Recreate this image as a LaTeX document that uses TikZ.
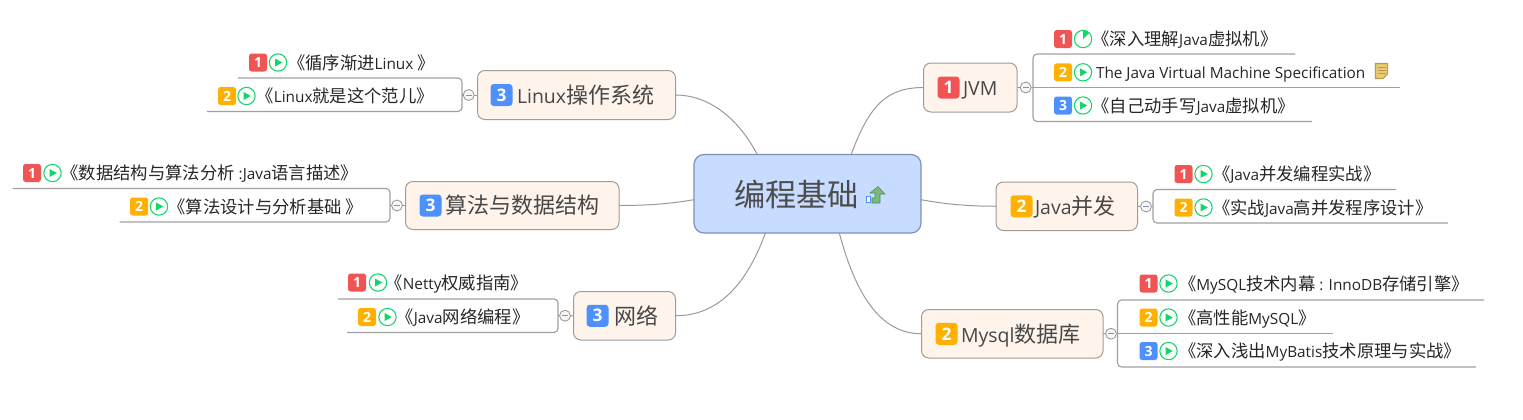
\documentclass[tikz,border=0pt]{standalone}
\usepackage{fontspec}
\setmainfont{Open Sans}
\newfontfamily\cjk{Noto Sans CJK SC}
\newfontfamily\latinf[Scale=0.885]{Open Sans}
\newcommand\ltn[1]{{\latinf #1}}
\definecolor{cred}{HTML}{F05555}
\definecolor{corange}{HTML}{FFB000}
\definecolor{cblue}{HTML}{4D90FE}
\definecolor{cgreen}{HTML}{12D668}
\definecolor{topicfill}{HTML}{FEF4EC}
\definecolor{topicedge}{HTML}{A39C94}
\definecolor{mainfill}{HTML}{C8DCFF}
\definecolor{mainedge}{HTML}{7F90B6}
\definecolor{linkc}{HTML}{9A9A9A}
\definecolor{leafline}{HTML}{A0A0A0}
\definecolor{notefill}{HTML}{EBCB70}
\definecolor{noteedge}{HTML}{BC9A50}
\definecolor{arrowfill}{HTML}{7DB87D}
\definecolor{arrowedge}{HTML}{4F8F5F}
\tikzset{
 px/.style={x=0.75pt,y=-0.75pt},
 mainbox/.style={draw=mainedge,line width=0.9pt,fill=mainfill,rounded corners=7.5pt,inner sep=0,outer sep=0,minimum width=170.25pt,minimum height=58.9pt},
 topicbox/.style={draw=topicedge,line width=0.75pt,fill=topicfill,rounded corners=5.5pt,inner sep=0,outer sep=0},
 topictext/.style={font=\cjk\fontsize{16.5}{19}\selectfont,text=black!72,anchor=west,inner sep=0,outer sep=0,text height=14.5pt,text depth=2pt},
 leaftext/.style={font=\cjk\fontsize{13}{14}\selectfont,text=black!85,anchor=west,inner sep=0,outer sep=0,text height=11.4pt,text depth=1.5pt},
 badgeS/.style={rounded corners=2pt,inner sep=0,outer sep=0,minimum size=13.5pt,text=white,font=\fontsize{10.5}{10.5}\selectfont\bfseries},
 badgeL/.style={rounded corners=2.5pt,inner sep=0,outer sep=0,minimum size=16.5pt,text=white,font=\fontsize{13}{13}\selectfont\bfseries},
 playicon/.style={circle,draw=cgreen,line width=0.8pt,fill=white,minimum size=13pt,inner sep=0,outer sep=0},
 collapse/.style={circle,draw=black!42,line width=0.6pt,fill=black!3,minimum size=8.2pt,inner sep=0,outer sep=0},
 link/.style={draw=linkc,line width=0.75pt},
 branch/.style={draw=leafline,line width=0.85pt,rounded corners=3pt},
}
% name, badge left x, y, colour, number, icon centre x, text left x, text
\newcommand\leafitem[8]{%
 \node[badgeS,fill=#4] (#1b) at (#2+9,#3) {#5};
 \node[playicon] (#1i) at (#6,#3) {};
 \node[leaftext] (#1t) at (#7,#3) {#8};
}
\newcommand\playmark[1]{\fill[cgreen] ($(#1)+(-2.2pt,-3pt)$) -- ($(#1)+(3.2pt,0)$) -- ($(#1)+(-2.2pt,3pt)$) -- cycle;}
% name, left, top, right, bottom, badge colour, number, badge left, text left
\newcommand\topicnode[9]{%
 \node[topicbox,minimum width={(#4-#2)*0.75pt},minimum height={(#5-#3)*0.75pt}] (#1) at ({(#2+#4)/2},{(#3+#5)/2}) {};
 \node[badgeL,fill=#6] (#1b) at (#8+10.5,{(#3+#5)/2}) {#7};
 \node[topictext] (#1t) at (#9,{(#3+#5)/2}) {\topictxt};
}
\usetikzlibrary{calc}
\begin{document}
\begin{tikzpicture}[px]
\useasboundingbox (0,0) rectangle (1523,419);
\fill[white] (0,0) rectangle (1523,419);

% ---- centre
\node[mainbox] (main) at (807.5,193.75) {};
\node[font=\cjk\fontsize{23.4}{26}\selectfont,text=black!70,anchor=west,inner sep=0,outer sep=0] (maint) at (734,194.5) {编程基础};
\node[draw=cblue,fill=white,line width=0.5pt,minimum width=3pt,minimum height=4.5pt,inner sep=0,outer sep=0] (mainic) at (868.5,199) {};
\fill[fill=arrowfill,draw=arrowedge,line width=0.4pt] (872,198) -- (872,203) -- (880,203) -- (880,194) -- (885,194) -- (878,186.5) -- (870,193) -- (875,193) -- (875,198) -- cycle;

% ---- topics
\def\topictxt{\ltn{JVM}}
\topicnode{jvm}{923.5}{63}{1017}{112}{cred}{1}{938}{963}
\def\topictxt{\ltn{Java}并发}
\topicnode{conc}{996}{182}{1137.5}{230.5}{corange}{2}{1011}{1035}
\def\topictxt{\ltn{Mysql}数据库}
\topicnode{mysql}{921.5}{309.5}{1103}{358}{corange}{2}{936}{961}
\def\topictxt{\ltn{Linux}操作系统}
\topicnode{linux}{477.5}{70.5}{675.5}{119.5}{cblue}{3}{491}{517}
\def\topictxt{算法与数据结构}
\topicnode{algo}{405.5}{181.5}{619}{229.5}{cblue}{3}{420}{445}
\def\topictxt{网络}
\topicnode{net}{573.5}{291.5}{675.5}{340}{cblue}{3}{587}{614}

% ---- connectors from the centre
\draw[link] (main.42.4) .. controls +(18,-48) and +(-38,0) .. (jvm.west);
\draw[link] (main.-3.9) .. controls +(22,4) and +(-30,0) .. (conc.west);
\draw[link] (main.-51.25) .. controls +(16,60) and +(-42,0) .. (mysql.west);
\draw[link] (main.142.6) .. controls +(-20,-38) and +(32,0) .. (linux.east);
\draw[link] (main.183.65) .. controls +(-24,4) and +(30,0) .. (algo.east);
\draw[link] (main.223.4) .. controls +(-20,55) and +(40,0) .. (net.east);

% ---- branch lines
\coordinate (ja) at (1295,54); \coordinate (jb) at (1033,54); \coordinate (jc) at (1033,121.5); \coordinate (jd) at (1312,121.5); \coordinate (je) at (1400,87.5);
\draw[branch] (ja) -- (jb) -- (jc) -- (jd);
\coordinate (ca) at (1396,189.5); \coordinate (cb) at (1153,189.5); \coordinate (cc) at (1153,223); \coordinate (cd) at (1448,223);
\draw[branch] (ca) -- (cb) -- (cc) -- (cd);
\coordinate (ma) at (1484,300); \coordinate (mb) at (1117.5,300); \coordinate (mc) at (1117.5,367); \coordinate (md) at (1476,367); \coordinate (me) at (1333,333.7);
\draw[branch] (ma) -- (mb) -- (mc) -- (md);
\coordinate (la) at (238,78); \coordinate (lb) at (462,78); \coordinate (lc) at (462,111.5); \coordinate (ld) at (207,111.5);
\draw[branch] (la) -- (lb) -- (lc) -- (ld);
\coordinate (aa) at (12.5,188.5); \coordinate (ab) at (390,188.5); \coordinate (ac) at (390,222); \coordinate (ad) at (119.5,222);
\draw[branch] (aa) -- (ab) -- (ac) -- (ad);
\coordinate (na) at (338,299); \coordinate (nb) at (558,299); \coordinate (nc) at (558,332.5); \coordinate (nd) at (347,332.5);
\draw[branch] (na) -- (nb) -- (nc) -- (nd);

% ---- collapse markers
\foreach \n/\x/\y in {jvm/1025.7/87.5,conc/1146/206.5,mysql/1111/333.7,linux/468.7/95,algo/397/205.5,net/565/315.7}{
 \node[collapse] (\n c) at (\x,\y) {};
}
\draw[link] (jvm.east) -- (jvmc);
\draw[link] (conc.east) -- (concc);
\draw[link] (mysql.east) -- (mysqlc);
\draw[link] (linux.west) -- (linuxc);
\draw[link] (algo.west) -- (algoc);
\draw[link] (net.west) -- (netc);
\draw[branch] (jvmc) -- (je);
\draw[branch] (concc) -- (cb |- concc);
\draw[branch] (mysqlc) -- (me);
\draw[branch] (linuxc) -- (lb |- linuxc);
\draw[branch] (algoc) -- (ab |- algoc);
\draw[branch] (netc) -- (nb |- netc);
\foreach \n in {jvm,conc,mysql,linux,algo,net}{
 \draw[draw=blue!40!black!45,line width=0.6pt] ($(\n c)+(-2.1pt,0)$) -- ($(\n c)+(2.1pt,0)$);
}

% ---- leaves
\leafitem{j1}{1054}{39}{cred}{1}{1083}{1092.5}{《深入理解\ltn{Java}虚拟机》}
\fill[cgreen] (j1i.center) -- (j1i.90) -- (j1i.75) -- (j1i.60) -- (j1i.45) -- cycle;
\leafitem{j2}{1054}{72.3}{corange}{2}{1083}{1096}{\ltn{The Java Virtual Machine Specification}}
\playmark{j2i}
\leafitem{j3}{1054}{105.5}{cblue}{3}{1083}{1092.5}{《自己动手写\ltn{Java}虚拟机》}
\playmark{j3i}
\fill[fill=notefill,draw=noteedge,line width=0.8pt] (1375.5,63.5) -- (1387.5,63.5) -- (1387.5,74) -- (1383,78.5) -- (1375.5,78.5) -- cycle;
\foreach \yy in {67,70,73}{\draw[noteedge,line width=0.6pt] (1377.5,\yy) -- (1385.5,\yy);}

\leafitem{c1}{1174.5}{174}{cred}{1}{1203.5}{1213}{《\ltn{Java}并发编程实战》}
\playmark{c1i}
\leafitem{c2}{1174.5}{207.5}{corange}{2}{1203.5}{1213}{《实战\ltn{Java}高并发程序设计》}
\playmark{c2i}

\leafitem{m1}{1139.5}{283.5}{cred}{1}{1168.5}{1179}{《\ltn{MySQL}技术内幕 \ltn{:} \ltn{InnoDB}存储引擎》}
\playmark{m1i}
\leafitem{m2}{1139.5}{317.5}{corange}{2}{1168.5}{1179}{《高性能\ltn{MySQL}》}
\playmark{m2i}
\leafitem{m3}{1139.5}{351}{cblue}{3}{1168.5}{1179}{《深入浅出\ltn{MyBatis}技术原理与实战》}
\playmark{m3i}

\leafitem{l1}{249}{62.5}{cred}{1}{278}{288}{《循序渐进\ltn{Linux} 》}
\playmark{l1i}
\leafitem{l2}{218}{96}{corange}{2}{246.5}{256.5}{《\ltn{Linux}就是这个范儿》}
\playmark{l2i}

\leafitem{a1}{23}{173}{cred}{1}{52.5}{61.5}{《数据结构与算法分析 \ltn{:Java}语言描述》}
\playmark{a1i}
\leafitem{a2}{130}{206.5}{corange}{2}{159}{168.5}{《算法设计与分析基础 》}
\playmark{a2i}

\leafitem{n1}{348}{282.5}{cred}{1}{378}{385.5}{《\ltn{Netty}权威指南》}
\playmark{n1i}
\leafitem{n2}{358}{317}{corange}{2}{387.5}{396.5}{《\ltn{Java}网络编程》}
\playmark{n2i}
\end{tikzpicture}
\end{document}
